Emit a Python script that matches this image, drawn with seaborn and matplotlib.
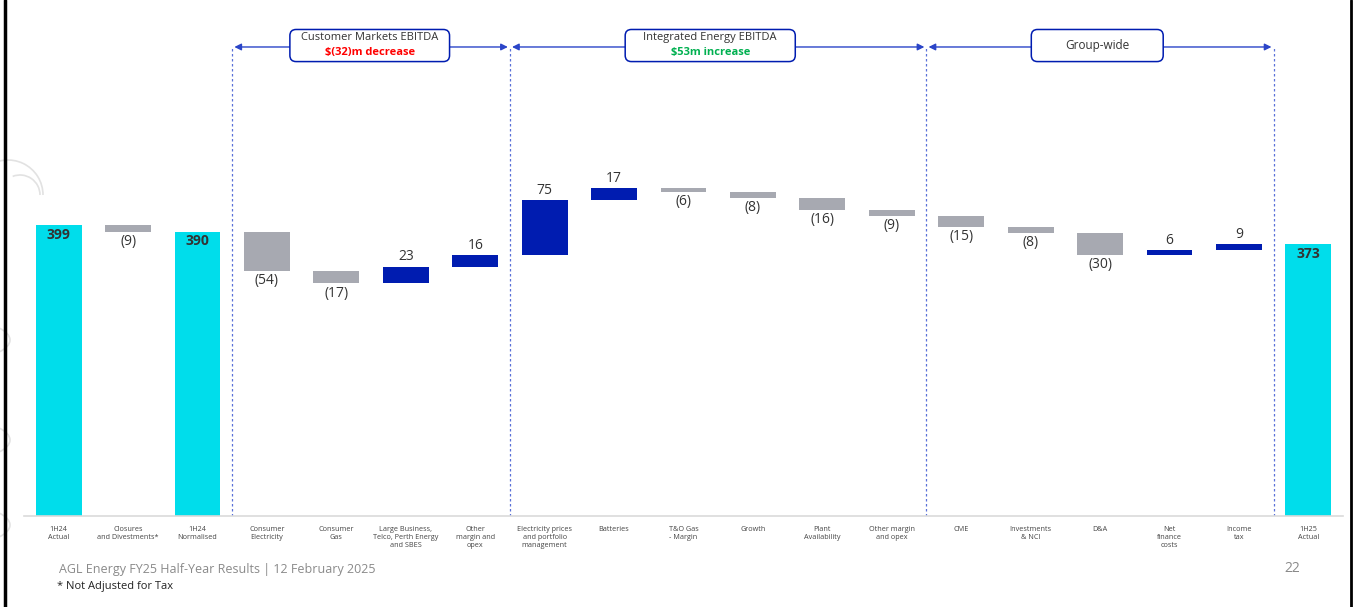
import numpy as np
import pandas as pd
import matplotlib
matplotlib.use("Agg")
import matplotlib.pyplot as plt
from matplotlib.patches import FancyBboxPatch, Circle, Arc
from matplotlib.lines import Line2D
import seaborn as sns

# datos del grafico
etiquetas = [
    "1H24\nActual", "Closures\nand Divestments*", "1H24\nNormalised",
    "Consumer\nElectricity", "Consumer\nGas", "Large Business,\nTelco, Perth Energy\nand SBES",
    "Other\nmargin and\nopex", "Electricity prices\nand portfolio\nmanagement", "Batteries",
    "T&O Gas\n- Margin", "Growth", "Plant\nAvailability", "Other margin\nand opex",
    "CME", "Investments\n& NCI", "D&A", "Net\nfinance\ncosts", "Income\ntax", "1H25\nActual",
]
valores = [399, -9, 390, -54, -17, 23, 16, 75, 17, -6, -8, -16, -9, -15, -8, -30, 6, 9, 373]
es_total = [True, False, True] + [False] * 15 + [True]

grupos = ["Customer Markets EBITDA", "Integrated Energy EBITDA", "Group-wide"]
grupos_sub = ["$(32)m decrease", "$53m increase", ""]
footer = "AGL Energy FY25 Half-Year Results | 12 February 2025"
nota = "* Not Adjusted for Tax"
pagina = "22"

CYAN = "#00DDEB"
GRIS = "#A7A9B1"
AZUL = "#001CB0"
LINEA = "#2B45C8"

# calcular bases del waterfall
bases, topes = [], []
acum = 0
for v, t in zip(valores, es_total):
    if t:
        acum = v
        bases.append(0); topes.append(v)
    else:
        bases.append(min(acum, acum + v)); topes.append(max(acum, acum + v))
        acum += v
df = pd.DataFrame({"label": etiquetas, "valor": valores, "base": bases, "tope": topes, "total": es_total})

sns.set_theme(style="white")
plt.rcParams["font.family"] = ["Open Sans", "DejaVu Sans"]

fig = plt.figure(figsize=(13.54, 6.07), dpi=100)
ax = fig.add_axes([24 / 1354, 91 / 607, 1319 / 1354, 496 / 607])

sns.barplot(data=df, x="label", y="tope", color=GRIS, width=0.66, ax=ax, saturation=1)
for p, r in zip(ax.patches, df.itertuples()):
    p.set_y(r.base)
    p.set_height(r.tope - r.base)
    if r.total:
        p.set_facecolor(CYAN)
    elif r.valor > 0:
        p.set_facecolor(AZUL)
    else:
        p.set_facecolor(GRIS)
    p.set_edgecolor("none")

ax.set_xlim(-0.5, len(etiquetas) - 0.5)
ax.set_ylim(0, 680)
ax.set_xlabel("")
ax.set_ylabel("")
ax.set_yticks([])
for s in ["top", "right", "left"]:
    ax.spines[s].set_visible(False)
ax.spines["bottom"].set_color("#DADADA")
ax.spines["bottom"].set_linewidth(1.2)
ax.tick_params(axis="x", length=0, pad=7, labelsize=5.2, labelcolor="#444444")

# etiquetas de valores
for i, r in enumerate(df.itertuples()):
    if r.total:
        ax.text(i, r.tope - 4, str(r.valor), ha="center", va="top", fontsize=10,
                fontweight="bold", color="#333333")
    elif r.valor < 0:
        ax.text(i, r.base - 3, f"({-r.valor})", ha="center", va="top", fontsize=10, color="#333333")
    else:
        ax.text(i, r.tope + 3, str(r.valor), ha="center", va="bottom", fontsize=10, color="#333333")

# separadores y flechas de grupos
y_flecha = 643
for xs in [2.5, 6.5, 12.5, 17.5]:
    ax.plot([xs, xs], [0, y_flecha], ls=(0, (2, 2)), color="#5A70D8", lw=0.9, zorder=1)

tramos = [(2.5, 6.5), (6.5, 12.5), (12.5, 17.5)]
cajas = [(3.33, 5.63), (8.16, 10.61), (14.01, 15.91)]
for (a, b), (c0, c1), g, sub in zip(tramos, cajas, grupos, grupos_sub):
    ax.annotate("", xy=(a + 0.03, y_flecha), xytext=(b - 0.03, y_flecha),
                arrowprops=dict(arrowstyle="<|-|>", color=LINEA, lw=1, mutation_scale=10,
                                shrinkA=0, shrinkB=0))
    caja = FancyBboxPatch((c0, 623), c1 - c0, 44,
                          boxstyle="round,pad=0,rounding_size=0.09",
                          mutation_aspect=95, fc="white", ec=AZUL, lw=1.1, zorder=4)
    ax.add_patch(caja)
    xc = (c0 + c1) / 2
    if sub:
        ax.text(xc, 656, g, ha="center", va="center", fontsize=8, color="#333333", zorder=5)
        col = "#FF0000" if "decrease" in sub else "#00B050"
        ax.text(xc, 636, sub, ha="center", va="center", fontsize=8, fontweight="bold",
                color=col, zorder=5)
    else:
        ax.text(xc, 645, g, ha="center", va="center", fontsize=8.5, color="#333333", zorder=5)

# decoracion de la diapositiva
fig.add_artist(Line2D([5 / 1354, 5 / 1354], [0, 1], color="black", lw=2.5))
fig.add_artist(Line2D([1351 / 1354, 1351 / 1354], [0, 1], color="black", lw=2))
W, H = 1354, 607
for cx, cy, rr in [(-28, 340, 38), (-28, 440, 38), (-28, 525, 38)]:
    fig.add_artist(Circle((cx / W, 1 - cy / H), rr / W, transform=fig.transFigure,
                          fill=False, ec="#E2E2E2", lw=1.2, zorder=0))
fig.add_artist(Arc((8 / W, 1 - 195 / H), 70 / W, 70 / H, theta1=0, theta2=110,
                   transform=fig.transFigure, ec="#E2E2E2", lw=1.2))
fig.add_artist(Arc((20 / W, 1 - 195 / H), 40 / W, 40 / H, theta1=0, theta2=100,
                   transform=fig.transFigure, ec="#E2E2E2", lw=1.2))

fig.text(59 / W, 1 - 570 / H, footer, ha="left", va="center", fontsize=9, color="#8A8A8A")
fig.text(57 / W, 1 - 587 / H, nota, ha="left", va="center", fontsize=8, color="#222222")
fig.text(1300 / W, 1 - 569 / H, pagina, ha="right", va="center", fontsize=10, color="#8A8A8A")

fig.savefig("out.png", dpi=100)
